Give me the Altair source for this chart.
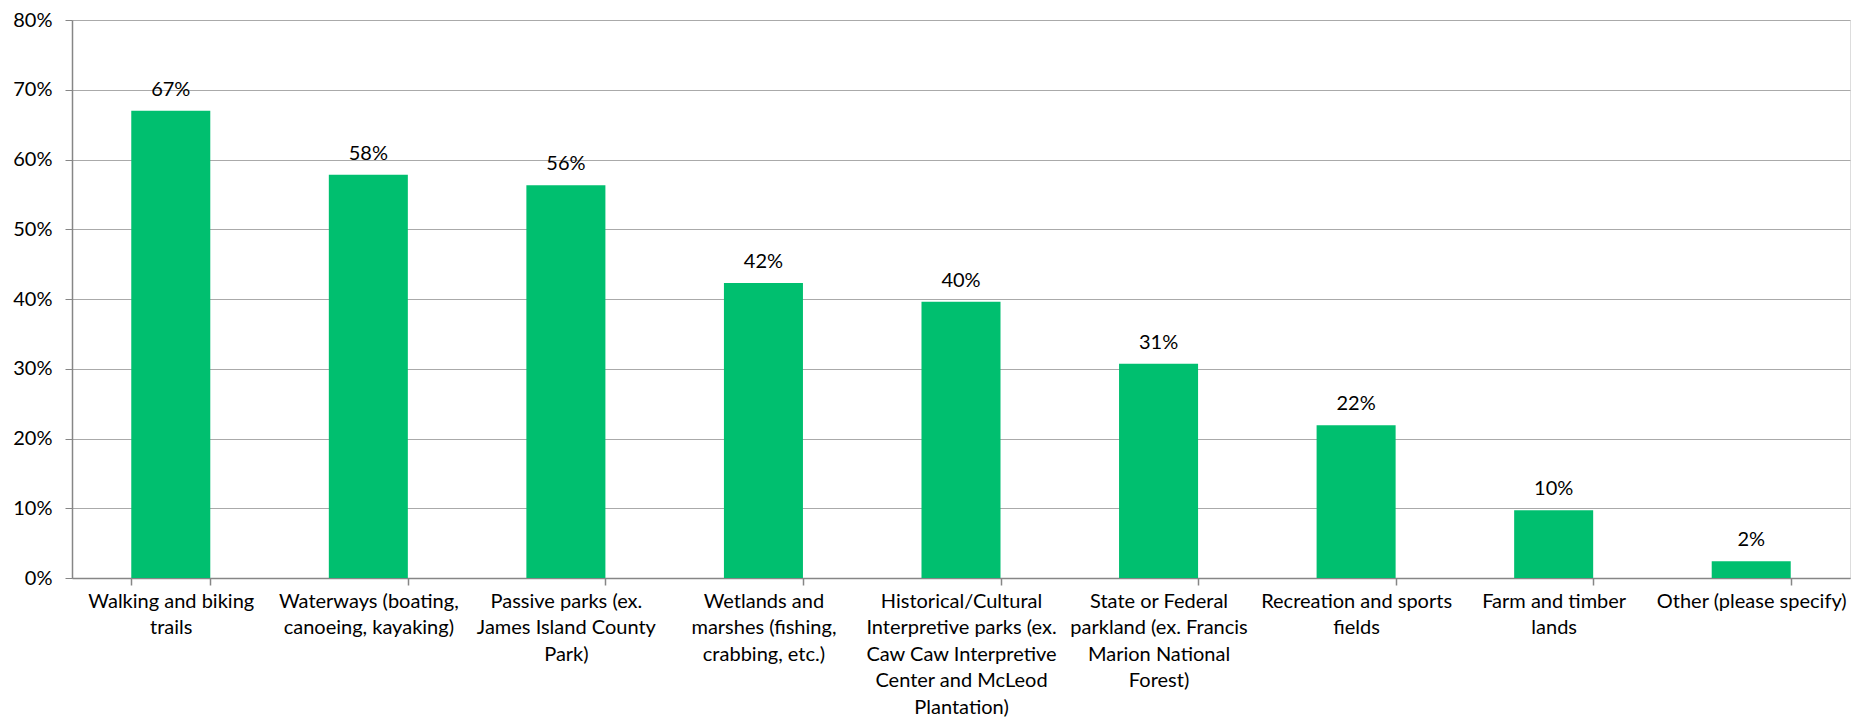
import altair as alt
import pandas as pd

categories = [
    "Walking and biking trails",
    "Waterways (boating, canoeing, kayaking)",
    "Passive parks (ex. James Island County Park)",
    "Wetlands and marshes (fishing, crabbing, etc.)",
    "Historical/Cultural Interpretive parks (ex. Caw Caw Interpretive Center and McLeod Plantation)",
    "State or Federal parkland (ex. Francis Marion National Forest)",
    "Recreation and sports fields",
    "Farm and timber lands",
    "Other (please specify)",
]
wrapped = [
    ["Walking and biking", "trails"],
    ["Waterways (boating,", "canoeing, kayaking)"],
    ["Passive parks (ex.", "James Island County", "Park)"],
    ["Wetlands and", "marshes (fishing,", "crabbing, etc.)"],
    ["Historical/Cultural", "Interpretive parks (ex.", "Caw Caw Interpretive", "Center and McLeod", "Plantation)"],
    ["State or Federal", "parkland (ex. Francis", "Marion National", "Forest)"],
    ["Recreation and sports", "fields"],
    ["Farm and timber", "lands"],
    ["Other (please specify)"],
]
values = [0.670, 0.578, 0.563, 0.423, 0.396, 0.307, 0.219, 0.097, 0.024]

df = pd.DataFrame({"category": categories, "value": values})

def js_str(s):
    return "'" + s.replace("'", "\\'") + "'"

mapping = "{" + ", ".join(
    js_str(c) + ": [" + ", ".join(js_str(l) for l in w) + "]"
    for c, w in zip(categories, wrapped)
) + "}"
label_expr = mapping + "[datum.value]"

FONT = "Lato"
FS = 20
GREEN = "#00BF6F"

x = alt.X(
    "category:N",
    sort=categories,
    scale=alt.Scale(paddingInner=0.6, paddingOuter=0.3),
    axis=alt.Axis(
        title=None,
        labelAngle=0,
        labelExpr=label_expr,
        labelFont=FONT,
        labelFontSize=FS,
        labelColor="#000000",
        labelLineHeight=26.5,
        labelBaseline="top",
        labelPadding=6,
        labelLimit=300,
        domainColor="#868686",
        domainWidth=1.5,
        tickColor="#868686",
        tickWidth=1.5,
        tickSize=7,
        tickBand="extent",
        grid=False,
    ),
)

y = alt.Y(
    "value:Q",
    scale=alt.Scale(domain=[0, 0.8], nice=False),
    axis=alt.Axis(
        title=None,
        format=".0%",
        values=[0, 0.1, 0.2, 0.3, 0.4, 0.5, 0.6, 0.7, 0.8],
        labelFont=FONT,
        labelFontSize=FS,
        labelColor="#000000",
        labelPadding=13,
        domainColor="#868686",
        domainWidth=1.5,
        tickColor="#868686",
        tickWidth=1,
        tickSize=7,
        gridColor="#aaaaaa",
        gridWidth=1.2,
    ),
)

bars = alt.Chart(df).mark_bar(color=GREEN).encode(x=x, y=y)
labels = alt.Chart(df).mark_text(
    font=FONT, fontSize=FS, color="#000000", baseline="alphabetic", dy=-15
).encode(
    x=alt.X("category:N", sort=categories),
    y="value:Q",
    text=alt.Text("value:Q", format=".0%"),
)

chart = (
    alt.layer(bars, labels)
    .properties(
        width=1778,
        height=558,
        padding={"left": 64, "top": 12, "right": 12, "bottom": 140},
        autosize=alt.AutoSizeParams(type="none"),
    )
    .configure_view(stroke=None)
    .configure(background="white")
)

chart.save("out.html", embed_options={"renderer": "svg", "actions": False})
